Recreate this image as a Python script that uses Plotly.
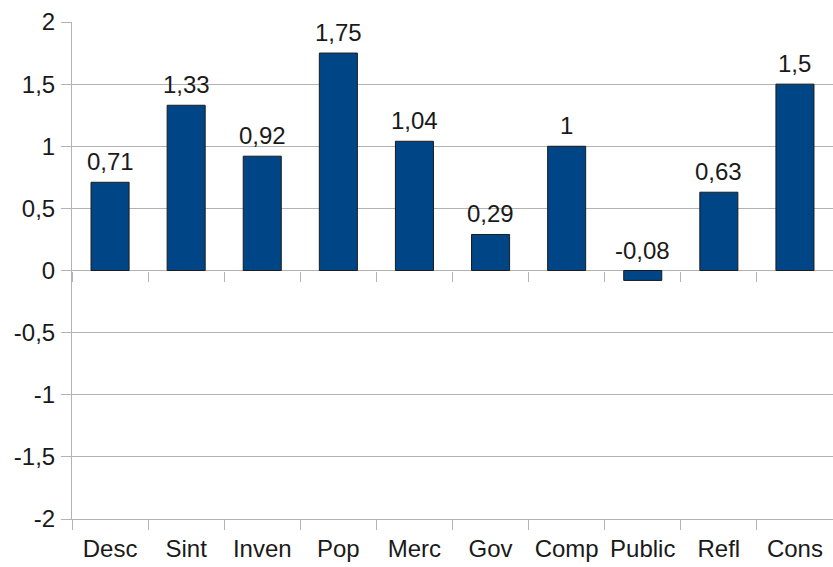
import plotly.graph_objects as go

categories = ["Desc", "Sint", "Inven", "Pop", "Merc", "Gov", "Comp", "Public", "Refl", "Cons"]
values = [0.71, 1.33, 0.92, 1.75, 1.04, 0.29, 1.0, -0.08, 0.63, 1.5]
y_ticks = [-2, -1.5, -1, -0.5, 0, 0.5, 1, 1.5, 2]

def fmt(v):
    return f"{v:g}".replace(".", ",")

FONT = "Liberation Sans, Arial, sans-serif"
GRID = "#b3b3b3"
TXT = "#1a1a1a"
FS = 24

fig = go.Figure()
fig.add_trace(go.Bar(
    x=categories, y=values,
    marker=dict(color="#004586", line=dict(color="#1c1c1c", width=1)),
    width=0.5, hoverinfo="x+y",
))
# invisible trace so the zero-line category axis renders its boundary ticks
fig.add_trace(go.Scatter(x=categories, y=[0]*len(categories), xaxis="x2",
                         mode="markers", marker=dict(opacity=0), hoverinfo="skip",
                         showlegend=False))

for c, v in zip(categories, values):
    fig.add_annotation(x=c, y=max(v, 0), text=fmt(v), showarrow=False,
                       yanchor="bottom", yshift=5,
                       font=dict(family=FONT, size=FS, color=TXT))

fig.update_layout(
    width=833, height=567,
    margin=dict(l=72, r=0, t=22, b=48),
    plot_bgcolor="white", paper_bgcolor="white",
    showlegend=False,
    separators=", ",
    font=dict(family=FONT, size=FS, color=TXT),
    xaxis=dict(type="category", categoryorder="array", categoryarray=categories,
               tickson="boundaries", ticks="outside", ticklen=10, tickcolor=GRID,
               tickangle=0, ticklabelstandoff=8,
               showgrid=False, showline=True, linecolor=GRID, linewidth=1,
               tickfont=dict(family=FONT, size=FS, color=TXT),
               range=[-0.5, 9.5], fixedrange=True, automargin=False),
    xaxis2=dict(type="category", categoryorder="array", categoryarray=categories,
                overlaying="x", matches="x", anchor="free", position=0.5,
                tickson="boundaries", ticks="outside", ticklen=10, tickcolor=GRID,
                showticklabels=False, showgrid=False, showline=False, automargin=False),
    yaxis=dict(range=[-2, 2], tickvals=y_ticks, ticktext=[fmt(t) for t in y_ticks],
               ticks="outside", ticklen=10, tickcolor=GRID, ticklabelstandoff=1,
               showgrid=True, gridcolor=GRID, gridwidth=1,
               zeroline=True, zerolinecolor=GRID, zerolinewidth=1,
               showline=True, linecolor=GRID, linewidth=1,
               tickfont=dict(family=FONT, size=FS, color=TXT), automargin=False),
)

fig.write_html("out.html", config={"displayModeBar": False},
               post_script="document.body.style.margin='0';document.body.style.padding='0';")
